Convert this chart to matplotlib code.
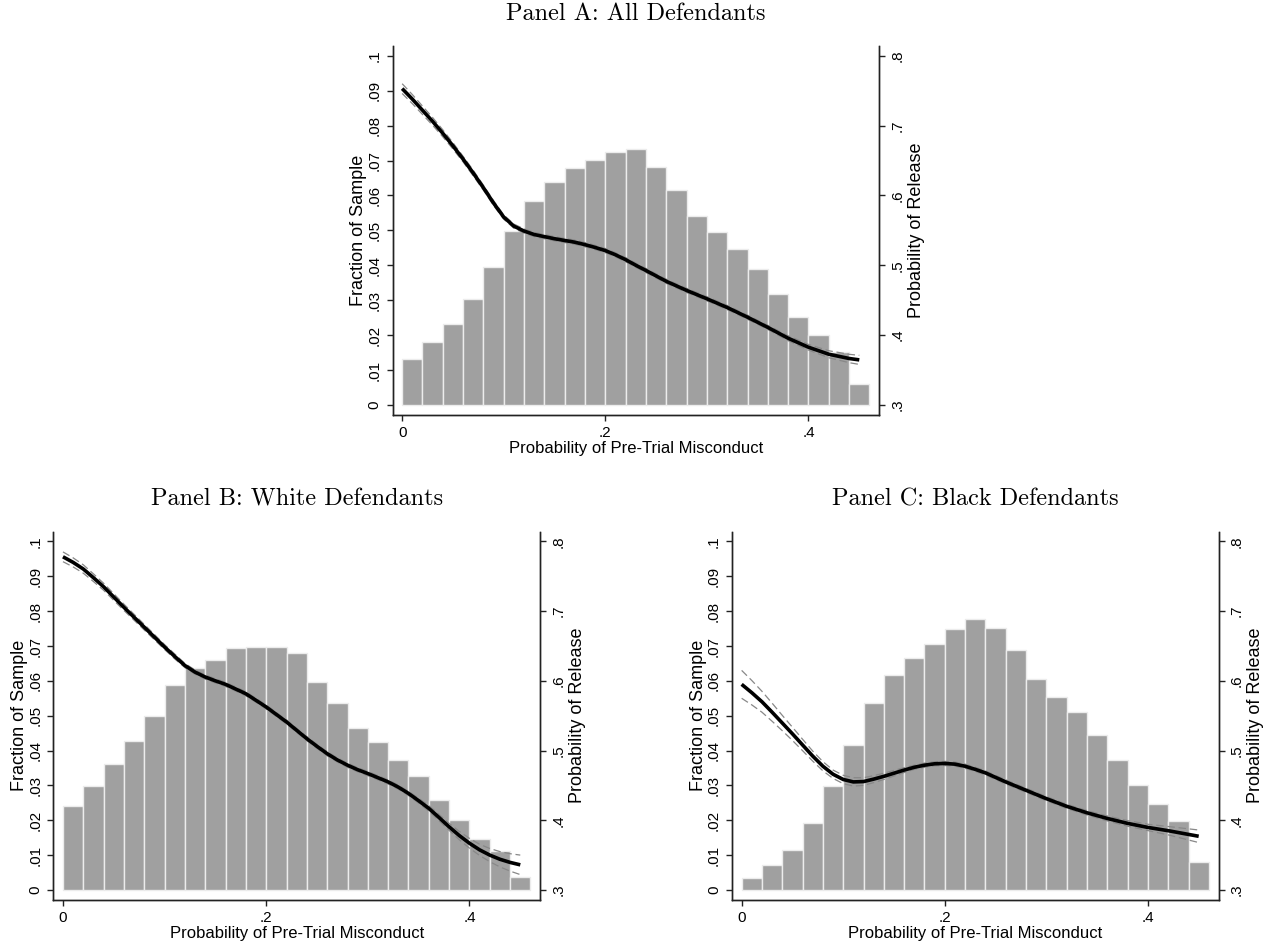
import numpy as np
import matplotlib
matplotlib.use("Agg")
from matplotlib import pyplot as plt

# histogram bins (width .02, starting at 0)
bins = np.round(np.arange(0, 0.46, 0.02), 2)

# fraction of sample per bin
frac_all = [0.0132, 0.0179, 0.0231, 0.0303, 0.0394, 0.0497, 0.0585, 0.0638, 0.0680, 0.0702, 0.0725, 0.0733,
            0.0681, 0.0616, 0.0540, 0.0495, 0.0446, 0.0390, 0.0318, 0.0253, 0.0201, 0.0151, 0.0059]
frac_white = [0.0240, 0.0298, 0.0360, 0.0427, 0.0499, 0.0587, 0.0637, 0.0661, 0.0695, 0.0697, 0.0697, 0.0681,
              0.0598, 0.0536, 0.0466, 0.0425, 0.0373, 0.0327, 0.0258, 0.0200, 0.0147, 0.0113, 0.0037]
frac_black = [0.0035, 0.0072, 0.0116, 0.0191, 0.0299, 0.0415, 0.0537, 0.0617, 0.0665, 0.0707, 0.0750, 0.0777,
              0.0753, 0.0688, 0.0606, 0.0555, 0.0511, 0.0445, 0.0373, 0.0301, 0.0248, 0.0197, 0.0079]

# probability of release (right axis) and half width of the 95% band
x_all = [0.00, 0.01, 0.02, 0.03, 0.04, 0.05, 0.06, 0.07, 0.08, 0.09, 0.10, 0.11, 0.12, 0.13, 0.14, 0.15,
         0.16, 0.17, 0.18, 0.19, 0.20, 0.21, 0.22, 0.23, 0.24, 0.26, 0.28, 0.30, 0.32, 0.34, 0.36, 0.38,
         0.40, 0.42, 0.44, 0.45]
rel_all = [0.753, 0.738, 0.722, 0.706, 0.689, 0.671, 0.652, 0.632, 0.611, 0.589, 0.569, 0.556, 0.549, 0.544,
           0.541, 0.538, 0.5355, 0.533, 0.5295, 0.5255, 0.521, 0.515, 0.508, 0.500, 0.4925, 0.477, 0.464,
           0.452, 0.4395, 0.4256, 0.411, 0.3955, 0.3826, 0.3726, 0.3665, 0.3645]
band_all = [0.007, 0.0065, 0.006, 0.0055, 0.005, 0.0045, 0.004, 0.004, 0.0035, 0.0035, 0.003, 0.003, 0.003,
            0.003, 0.003, 0.003, 0.003, 0.003, 0.003, 0.003, 0.003, 0.003, 0.003, 0.003, 0.003, 0.003, 0.003,
            0.003, 0.003, 0.003, 0.003, 0.0035, 0.004, 0.005, 0.006, 0.0065]

x_white = [0.00, 0.01, 0.02, 0.03, 0.04, 0.06, 0.08, 0.10, 0.11, 0.12, 0.13, 0.14, 0.15, 0.16, 0.18, 0.20,
           0.22, 0.24, 0.25, 0.26, 0.27, 0.28, 0.29, 0.30, 0.32, 0.33, 0.34, 0.35, 0.36, 0.37, 0.38, 0.39,
           0.40, 0.41, 0.42, 0.43, 0.44, 0.45]
rel_white = [0.778, 0.770, 0.7605, 0.748, 0.735, 0.7055, 0.677, 0.6485, 0.635, 0.622, 0.6125, 0.6055, 0.600,
             0.595, 0.5815, 0.5625, 0.541, 0.517, 0.506, 0.4955, 0.4865, 0.479, 0.4725, 0.467, 0.455, 0.4475,
             0.4385, 0.428, 0.417, 0.404, 0.3905, 0.378, 0.367, 0.3575, 0.350, 0.344, 0.3395, 0.336]
band_white = [0.007, 0.0065, 0.006, 0.0055, 0.005, 0.0045, 0.004, 0.0035, 0.0035, 0.003, 0.003, 0.003, 0.003,
              0.003, 0.003, 0.003, 0.003, 0.003, 0.003, 0.003, 0.003, 0.003, 0.003, 0.003, 0.003, 0.003,
              0.003, 0.0035, 0.004, 0.0045, 0.005, 0.006, 0.007, 0.008, 0.0095, 0.011, 0.0125, 0.014]

x_black = [0.00, 0.01, 0.02, 0.03, 0.04, 0.05, 0.06, 0.07, 0.08, 0.09, 0.10, 0.11, 0.12, 0.13, 0.14, 0.15,
           0.16, 0.17, 0.18, 0.19, 0.20, 0.21, 0.22, 0.23, 0.24, 0.25, 0.26, 0.28, 0.30, 0.32, 0.34, 0.36,
           0.38, 0.40, 0.42, 0.45]
rel_black = [0.595, 0.583, 0.570, 0.555, 0.5395, 0.524, 0.508, 0.492, 0.4775, 0.466, 0.4585, 0.455, 0.4555,
             0.459, 0.463, 0.4675, 0.472, 0.476, 0.479, 0.481, 0.4815, 0.4805, 0.4775, 0.473, 0.468, 0.4615,
             0.455, 0.443, 0.431, 0.420, 0.4107, 0.4026, 0.3955, 0.3897, 0.385, 0.377]
band_black = [0.020, 0.0175, 0.015, 0.013, 0.011, 0.0095, 0.0082, 0.0072, 0.0066, 0.006, 0.006, 0.006, 0.0055,
              0.005, 0.0045, 0.004, 0.0035, 0.003, 0.003, 0.003, 0.003, 0.003, 0.003, 0.003, 0.003, 0.003,
              0.003, 0.003, 0.003, 0.003, 0.0032, 0.0035, 0.004, 0.0045, 0.006, 0.009]

left_ticks = [0, 0.01, 0.02, 0.03, 0.04, 0.05, 0.06, 0.07, 0.08, 0.09, 0.1]
left_labels = ["0", ".01", ".02", ".03", ".04", ".05", ".06", ".07", ".08", ".09", ".1"]
right_ticks = [0.3, 0.4, 0.5, 0.6, 0.7, 0.8]
right_labels = [".3", ".4", ".5", ".6", ".7", ".8"]
x_ticks = [0, 0.2, 0.4]
x_labels = ["0", ".2", ".4"]

plt.rcParams["font.family"] = ["Liberation Sans", "DejaVu Sans"]

W, H = 1274, 950
XLIM = (-0.0095, 0.4697)
YLIM = (-0.0028, 0.1028)


def px_axes(fig, left, top, right, bottom):
    return fig.add_axes([left / W, 1 - bottom / H, (right - left) / W, (bottom - top) / H])


def style_spines(ax):
    ax.spines["top"].set_visible(False)
    for s in ["left", "bottom", "right"]:
        ax.spines[s].set_linewidth(1)
        ax.spines[s].set_color("#222222")


def draw_panel(fig, box, title, frac, cx_, rel, band):
    ax = px_axes(fig, *box)
    ax.bar(bins, frac, width=0.02, align="edge", color="#a0a0a0", edgecolor="#ececec", linewidth=1.0, zorder=1)
    ax.set_xlim(*XLIM)
    ax.set_ylim(*YLIM)
    ax.set_xticks(x_ticks)
    ax.set_xticklabels(x_labels)
    ax.set_yticks(left_ticks)
    ax.set_yticklabels(left_labels, rotation=90, va="center")
    ax.tick_params(axis="both", length=4, width=1, labelsize=11, pad=4, color="#222222")
    ax.set_xlabel("Probability of Pre-Trial Misconduct", fontsize=12, labelpad=1)
    ax.set_ylabel("Fraction of Sample", fontsize=13, labelpad=0)
    style_spines(ax)

    rel = np.array(rel)
    band = np.array(band)
    ax2 = ax.twinx()
    ax2.set_ylim(0.3 + 5 * YLIM[0], 0.3 + 5 * YLIM[1])
    ax2.plot(cx_, rel + band, color="#888888", lw=0.9, ls=(0, (6, 3)), zorder=2)
    ax2.plot(cx_, rel - band, color="#888888", lw=0.9, ls=(0, (6, 3)), zorder=2)
    ax2.plot(cx_, rel, color="black", lw=2.6, zorder=3, solid_capstyle="butt", solid_joinstyle="round")
    ax2.set_yticks(right_ticks)
    ax2.set_yticklabels(right_labels, rotation=90, va="center")
    ax2.tick_params(axis="y", length=4, width=1, labelsize=11, pad=4, color="#222222")
    ax2.set_ylabel("Probability of Release", fontsize=13, labelpad=2.5)
    style_spines(ax2)

    mid = (box[0] + box[2]) / 2
    fig.text(mid / W, 1 - (box[1] - 32) / H, title, family="cmr10", fontsize=17.5, ha="center", va="center")
    return ax


def main():
    fig = plt.figure(figsize=(W / 100, H / 100), dpi=100)
    draw_panel(fig, (392.5, 46, 879.3, 414.7), "Panel A: All Defendants", frac_all, x_all, rel_all, band_all)
    draw_panel(fig, (53.3, 531.7, 540.3, 899.7), "Panel B: White Defendants", frac_white, x_white, rel_white,
               band_white)
    draw_panel(fig, (732, 531.7, 1218.7, 899.7), "Panel C: Black Defendants", frac_black, x_black, rel_black,
               band_black)
    fig.savefig("out.png", dpi=100, facecolor="white")


if __name__ == "__main__":
    main()
